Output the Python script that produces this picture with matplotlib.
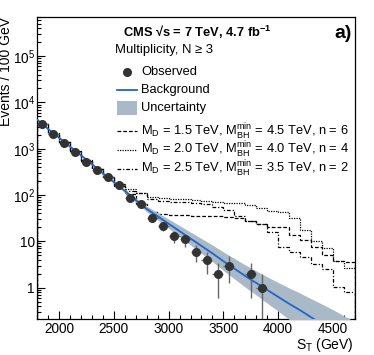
import numpy as np
import matplotlib
matplotlib.use('Agg')
import matplotlib.pyplot as plt
from matplotlib.lines import Line2D
from matplotlib.patches import Rectangle
from matplotlib.ticker import FixedLocator, NullFormatter, MultipleLocator

plt.rcParams['font.family'] = ['Liberation Sans', 'DejaVu Sans']
plt.rcParams['mathtext.fontset'] = 'custom'
plt.rcParams['mathtext.rm'] = 'Liberation Sans'
plt.rcParams['mathtext.it'] = 'Liberation Sans:italic'
plt.rcParams['mathtext.bf'] = 'Liberation Sans:bold'

# ---------------- data ----------------
bin_edges = [1800, 1900, 2000, 2100, 2200, 2300, 2400, 2500, 2600, 2700, 2800, 2900,
             3000, 3100, 3200, 3300, 3400, 3500, 3600, 3700, 3800, 3900, 4000, 4100,
             4200, 4300, 4400, 4500, 4600, 4700]

obs_st = [1850, 1950, 2050, 2150, 2250, 2350, 2450, 2550, 2650, 2750, 2850, 2950,
          3050, 3150, 3250, 3350, 3450, 3550, 3750, 3850]
obs_n = [3400, 2090, 1360, 850, 520, 350, 245, 164, 87, 63, 32, 21,
         13, 11, 6, 4, 2, 3, 2, 1]

bkg_st = bin_edges
bkg = [4270, 2690, 1740, 1120, 724, 468, 295, 191, 123, 77.6, 50.1, 34.7,
       24.0, 16.6, 11.5, 7.94, 5.50, 3.72, 2.57, 1.78, 1.26, 0.89, 0.63, 0.447,
       0.324, 0.229, 0.162, 0.115, 0.081, 0.058]
bkg_up = [4370, 2750, 1780, 1146, 750, 484, 309, 202, 132, 86.1, 57.5, 41.7,
          30.2, 21.9, 15.8, 11.5, 8.33, 5.90, 4.26, 3.09, 2.29, 1.71, 1.29, 0.98,
          0.76, 0.575, 0.44, 0.333, 0.245, 0.183]
bkg_dn = [4170, 2630, 1700, 1095, 699, 452, 282, 180, 115, 69.9, 43.7, 28.9,
          19.1, 12.6, 8.35, 5.48, 3.63, 2.35, 1.55, 1.02, 0.69, 0.46, 0.31, 0.204,
          0.138, 0.091, 0.060, 0.040, 0.027, 0.018]

sig_md15 = [3400, 2100, 1380, 880, 540, 360, 240, 160, 105, 63, 42, 38, 37, 37, 36,
            35, 35, 33, 32, 28, 24, 20, 20, 14, 10.5, 7.4, 5.0, 3.8, 3.5]
sig_md20 = [3450, 2150, 1420, 900, 560, 370, 250, 175, 135, 112, 89, 85, 83, 81, 79,
            76, 69, 68, 66, 60, 52, 46, 42, 32, 18, 10, 7, 3.8, 2.6]
sig_md25 = [3420, 2120, 1400, 890, 550, 365, 245, 170, 125, 112, 83, 76, 71, 69, 66,
            63, 56, 48, 35, 28, 24, 16, 7.6, 6.0, 4.5, 3.2, 2.5, 1.05, 0.82]

sig_labels = [r"M$_{\rm D}$ = 1.5 TeV, M$_{\rm BH}^{\rm min}$ = 4.5 TeV, n = 6",
              r"M$_{\rm D}$ = 2.0 TeV, M$_{\rm BH}^{\rm min}$ = 4.0 TeV, n = 4",
              r"M$_{\rm D}$ = 2.5 TeV, M$_{\rm BH}^{\rm min}$ = 3.5 TeV, n = 2"]
sig_styles = [(0, (3.0, 1.6)), (0, (1.0, 1.0)), (0, (3.0, 1.5, 1.0, 1.5))]

y_ticks = [1, 10, 100, 1e3, 1e4, 1e5]
y_ticklabels = ['1', '10', r'10$^{2}$', r'10$^{3}$', r'10$^{4}$', r'10$^{5}$']
x_ticks = [2000, 2500, 3000, 3500, 4000, 4500]

BLUE = '#1f66cc'
BAND = '#a9b9c7'

W, H = 374, 355
fig = plt.figure(figsize=(W / 100, H / 100), dpi=100)
L, R, T, B = 37, 355, 17, 319
ax = fig.add_axes([L / W, 1 - B / H, (R - L) / W, (B - T) / H])

def fx(x):
    return x / W

def fy(y):
    return 1 - y / H

# signal histograms
for vals, ls in zip([sig_md15, sig_md20, sig_md25], sig_styles):
    ax.stairs(vals, bin_edges, color='black', lw=0.9, linestyle=ls, zorder=2)

ax.fill_between(bkg_st, bkg_dn, bkg_up, color=BAND, lw=0, zorder=3)
ax.plot(bkg_st, bkg, color=BLUE, lw=1.3, zorder=4)

obs_n_arr = np.array(obs_n, dtype=float)
err = np.sqrt(obs_n_arr)
err_lo = np.minimum(err, obs_n_arr - 1e-3)
ax.errorbar(obs_st, obs_n, xerr=50, yerr=[err_lo, err], fmt='none',
            ecolor='#666666', elinewidth=1.0, capsize=0, zorder=5)
ax.plot(obs_st, obs_n, 'o', color='#333333', ms=5.5, zorder=6)

ax.set_yscale('log')
ax.set_xlim(1800, 4700)
ax.set_ylim(0.21, 7e5)

ax.yaxis.set_major_locator(FixedLocator(y_ticks))
ax.set_yticklabels(y_ticklabels)
ax.yaxis.set_minor_locator(matplotlib.ticker.LogLocator(base=10, subs=np.arange(2, 10), numticks=20))
ax.yaxis.set_minor_formatter(NullFormatter())
ax.xaxis.set_major_locator(FixedLocator(x_ticks))
ax.xaxis.set_minor_locator(MultipleLocator(100))

ax.tick_params(which='both', direction='in', top=False, right=False, labelsize=9.8,
               width=0.8, colors='black')
ax.tick_params(which='major', length=6)
ax.tick_params(which='minor', length=3)
ax.tick_params(axis='y', pad=1.5)
ax.tick_params(axis='x', pad=2.5)
for s in ax.spines.values():
    s.set_linewidth(0.9)

# axis titles
fig.text(fx(6.5), fy(T), 'Events / 100 GeV', rotation=90, ha='center', va='top', fontsize=10)
fig.text(fx(354), fy(345), r'S$_{\rm T}$ (GeV)', ha='right', va='center', fontsize=10)

# header
fig.text(fx(123), fy(32), 'CMS √s = 7 TeV, 4.7 fb$^{\\mathbf{-1}}$',
         ha='left', va='center', fontsize=9.3, fontweight='bold')
fig.text(fx(115), fy(50), 'Multiplicity, N ≥ 3', ha='left', va='center', fontsize=9.4)
fig.text(fx(352), fy(33), 'a)', ha='right', va='center', fontsize=14, fontweight='bold')

# legend
x0, x1, xt = 117, 137, 141
FS = 9.3
fig.add_artist(Line2D([fx(127)], [fy(72)], marker='o', color='#333333', ms=5.5, ls='none'))
fig.text(fx(xt), fy(72), 'Observed', ha='left', va='center', fontsize=FS)
fig.add_artist(Line2D([fx(x0), fx(x1)], [fy(90), fy(90)], color=BLUE, lw=1.3))
fig.text(fx(xt), fy(90), 'Background', ha='left', va='center', fontsize=FS)
fig.add_artist(Rectangle((fx(x0), fy(115)), fx(x1) - fx(x0), fy(101) - fy(115),
                         facecolor=BAND, edgecolor='none', transform=fig.transFigure))
fig.text(fx(xt), fy(108), 'Uncertainty', ha='left', va='center', fontsize=FS)
for yy, lab, ls in zip([131.5, 150, 168.5], sig_labels, sig_styles):
    fig.add_artist(Line2D([fx(x0), fx(x1)], [fy(yy), fy(yy)], color='black', lw=0.9, linestyle=ls))
    fig.text(fx(xt), fy(yy), lab, ha='left', va='center', fontsize=FS)

fig.savefig('out.png', dpi=100)
